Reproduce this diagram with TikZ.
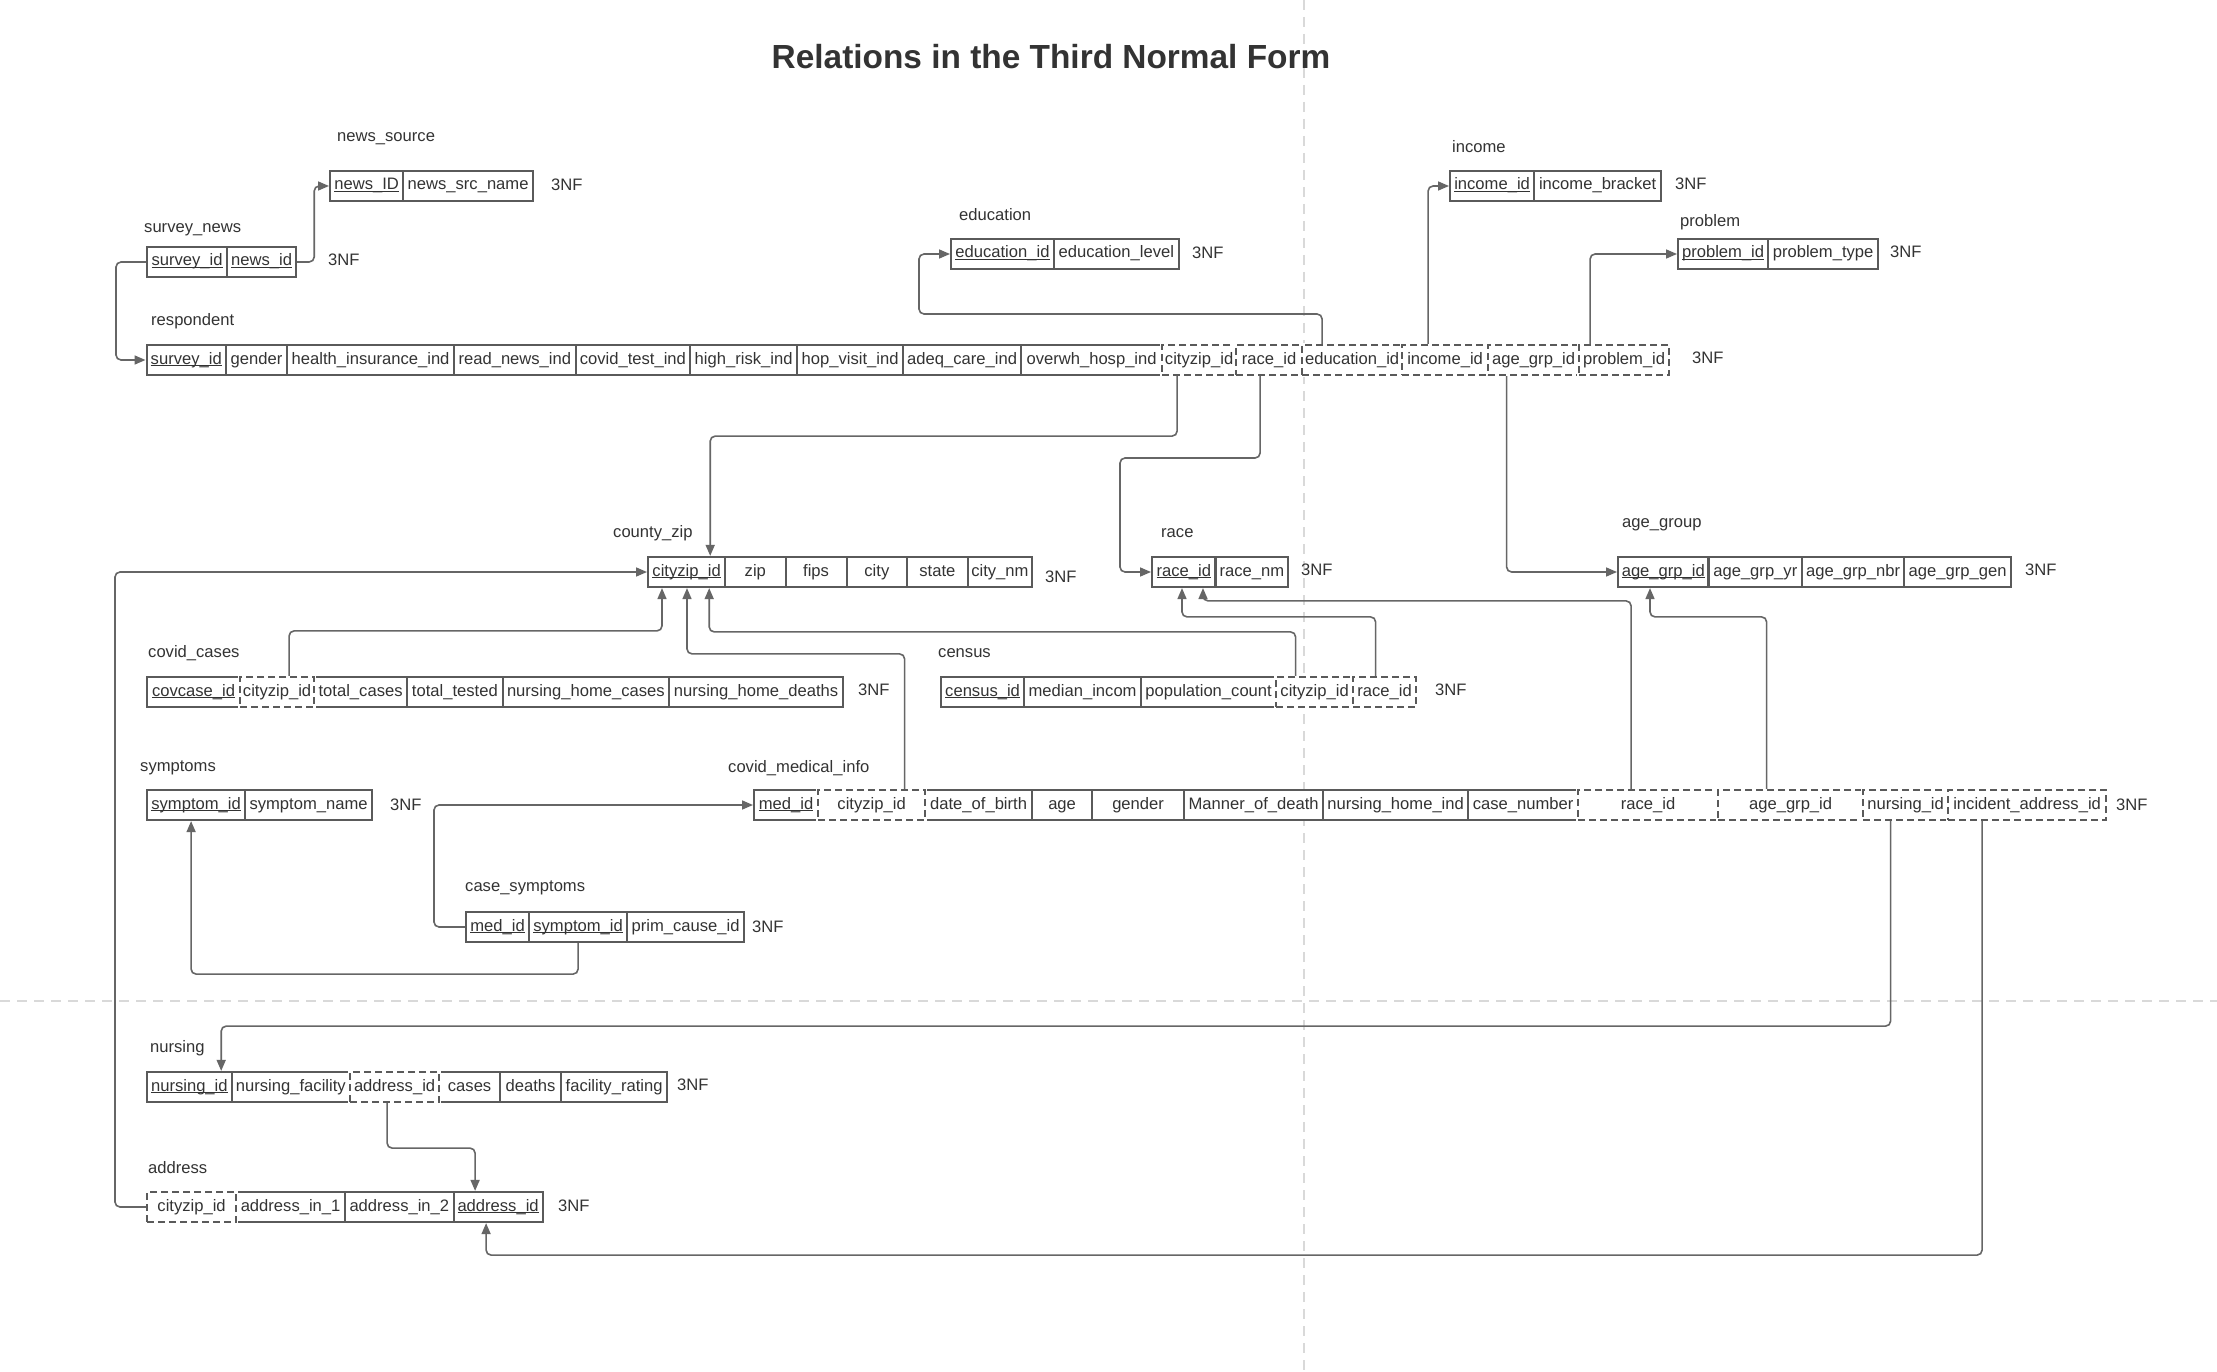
\documentclass[tikz,border=0pt]{standalone}
\usepackage{fontspec}
\setmainfont{Liberation Sans}
\usetikzlibrary{arrows.meta}
\definecolor{txtc}{HTML}{333333}
\definecolor{bordc}{HTML}{5A5A5A}
\definecolor{linec}{HTML}{666666}
\definecolor{pagec}{HTML}{D9D9D9}
\newcommand\tcell[6][tcellst]{\node[#1, minimum width={(#4-#3)*1pt}] (#2) at (#3,#5) {#6};}
\newcommand\pkey[1]{\setbox0\hbox{#1}\rlap{\rule[-2.4pt]{\wd0}{1.3pt}}\box0}
\begin{document}
\begin{tikzpicture}[x=1pt,y=-1pt,
  tcellst/.style={draw=bordc, line width=2.2pt, fill=white, minimum height=30pt, inner sep=0pt,
    anchor=west, text=txtc, font=\fontsize{16.6pt}{20pt}\selectfont, text height=12pt, text depth=4pt},
  fkst/.style={tcellst, dash pattern=on 7pt off 4pt, preaction={draw=white, line width=3.6pt, solid}},
  tname/.style={anchor=west, inner sep=0pt, text=txtc, font=\fontsize{16.6pt}{20pt}\selectfont},
  nfst/.style={tname},
  conn/.style={draw=linec, line width=1.6pt, rounded corners=5pt, -{Triangle[length=11pt,width=9pt]}},
  pageline/.style={draw=pagec, line width=2.5pt, dash pattern=on 10pt off 7pt}]
\useasboundingbox (0,0) rectangle (2217,1372);
\fill[white] (0,0) rectangle (2217,1372);
% page break lines
\draw[pageline] (1304,0) -- (1304,1372);
\draw[pageline] (0,1001) -- (2217,1001);
% title
\node[text=txtc, font=\fontsize{33.4pt}{40pt}\selectfont\bfseries] (title) at (1051,57) {Relations in the Third Normal Form};

% news_source
\node[tname] (l-ns) at (337,139) {news\_source};
\tcell{ns-id}{329}{402}{186}{\pkey{news\_ID}}
\tcell{ns-name}{402}{532}{186}{news\_src\_name}
\node[nfst] (n-ns) at (551,185) {3NF};

% survey_news
\node[tname] (l-sn) at (144,230) {survey\_news};
\tcell{sn-sid}{146}{226}{262}{\pkey{survey\_id}}
\tcell{sn-nid}{226}{295}{262}{\pkey{news\_id}}
\node[nfst] (n-sn) at (328,260) {3NF};

% respondent
\node[tname] (l-r) at (151,321) {respondent};
\tcell{r-sid}{145.5}{224.8}{360}{\pkey{survey\_id}}
\tcell{r-gender}{224.8}{286}{360}{gender}
\tcell{r-hins}{286}{453}{360}{health\_insurance\_ind}
\tcell{r-rnews}{453}{574.5}{360}{read\_news\_ind}
\tcell{r-ctest}{574.5}{689}{360}{covid\_test\_ind}
\tcell{r-hrisk}{689}{796}{360}{high\_risk\_ind}
\tcell{r-hop}{796}{902}{360}{hop\_visit\_ind}
\tcell{r-adeq}{902}{1020}{360}{adeq\_care\_ind}
\tcell{r-overwh}{1020}{1161}{360}{overwh\_hosp\_ind}
\tcell[fkst]{r-cz}{1161}{1235}{360}{cityzip\_id}
\tcell[fkst]{r-race}{1235}{1301}{360}{race\_id}
\tcell[fkst]{r-edu}{1301}{1401}{360}{education\_id}
\tcell[fkst]{r-inc}{1401}{1487}{360}{income\_id}
\tcell[fkst]{r-age}{1487}{1578}{360}{age\_grp\_id}
\tcell[fkst]{r-prob}{1578}{1668}{360}{problem\_id}
\node[nfst] (n-r) at (1692,358) {3NF};

% education
\node[tname] (l-ed) at (959,215) {education};
\tcell{ed-id}{950}{1052.7}{254}{\pkey{education\_id}}
\tcell{ed-lvl}{1052.7}{1177.7}{254}{education\_level}
\node[nfst] (n-ed) at (1192,253) {3NF};

% income
\node[tname] (l-inc) at (1452,147) {income};
\tcell{inc-id}{1449}{1533}{186}{\pkey{income\_id}}
\tcell{inc-br}{1533}{1660}{186}{income\_bracket}
\node[nfst] (n-inc) at (1675,184) {3NF};

% problem
\node[tname] (l-pr) at (1680,222) {problem};
\tcell{pr-id}{1677}{1767}{254}{\pkey{problem\_id}}
\tcell{pr-type}{1767}{1877}{254}{problem\_type}
\node[nfst] (n-pr) at (1890,252) {3NF};

% county_zip
\node[tname] (l-cz) at (613,533) {county\_zip};
\tcell{cz-id}{647}{724}{572}{\pkey{cityzip\_id}}
\tcell{cz-zip}{724}{784.5}{572}{zip}
\tcell{cz-fips}{784.5}{845.5}{572}{fips}
\tcell{cz-city}{845.5}{906}{572}{city}
\tcell{cz-state}{906}{966.5}{572}{state}
\tcell{cz-nm}{966.5}{1031}{572}{city\_nm}
\node[nfst] (n-cz) at (1045,577) {3NF};

% race
\node[tname] (l-rc) at (1161,533) {race};
\tcell{rc-id}{1151}{1214.4}{572}{\pkey{race\_id}}
\tcell{rc-nm}{1214.4}{1287}{572}{race\_nm}
\node[nfst] (n-rc) at (1301,570) {3NF};

% age_group
\node[tname] (l-ag) at (1622,525) {age\_group};
\tcell{ag-id}{1617}{1707.4}{572}{\pkey{age\_grp\_id}}
\tcell{ag-yr}{1707.4}{1801}{572}{age\_grp\_yr}
\tcell{ag-nbr}{1801}{1903}{572}{age\_grp\_nbr}
\tcell{ag-gen}{1903}{2010}{572}{age\_grp\_gen}
\node[nfst] (n-ag) at (2025,570) {3NF};

% covid_cases
\node[tname] (l-cc) at (148,653) {covid\_cases};
\tcell{cc-id}{146}{239}{692}{\pkey{covcase\_id}}
\tcell{cc-tc}{313}{406}{692}{total\_cases}
\tcell{cc-tt}{406}{501.6}{692}{total\_tested}
\tcell{cc-nhc}{501.6}{668}{692}{nursing\_home\_cases}
\tcell{cc-nhd}{668}{842}{692}{nursing\_home\_deaths}
\tcell[fkst]{cc-cz}{239}{313}{692}{cityzip\_id}
\node[nfst] (n-cc) at (858,690) {3NF};

% census
\node[tname] (l-ce) at (938,653) {census};
\tcell{ce-id}{940}{1023}{692}{\pkey{census\_id}}
\tcell{ce-mi}{1023}{1140}{692}{median\_incom}
\tcell{ce-pc}{1140}{1275}{692}{population\_count}
\tcell[fkst]{ce-cz}{1275}{1352}{692}{cityzip\_id}
\tcell[fkst]{ce-race}{1352}{1415}{692}{race\_id}
\node[nfst] (n-ce) at (1435,690) {3NF};

% symptoms
\node[tname] (l-sy) at (140,768) {symptoms};
\tcell{sy-id}{146}{244}{805}{\pkey{symptom\_id}}
\tcell{sy-nm}{244}{371}{805}{symptom\_name}
\node[nfst] (n-sy) at (390,805) {3NF};

% covid_medical_info
\node[tname] (l-cm) at (728,768) {covid\_medical\_info};
\tcell{cm-med}{753}{817}{805}{\pkey{med\_id}}
\tcell{cm-dob}{924}{1031}{805}{date\_of\_birth}
\tcell{cm-age}{1031}{1091}{805}{age}
\tcell{cm-gen}{1091}{1183}{805}{gender}
\tcell{cm-mod}{1183}{1322}{805}{Manner\_of\_death}
\tcell{cm-nhi}{1322}{1467}{805}{nursing\_home\_ind}
\tcell{cm-cn}{1467}{1577}{805}{case\_number}
\tcell[fkst]{cm-cz}{817}{924}{805}{cityzip\_id}
\tcell[fkst]{cm-race}{1577}{1717}{805}{race\_id}
\tcell[fkst]{cm-ag}{1717}{1862}{805}{age\_grp\_id}
\tcell[fkst]{cm-nurs}{1862}{1947}{805}{nursing\_id}
\tcell[fkst]{cm-addr}{1947}{2105}{805}{incident\_address\_id}
\node[nfst] (n-cm) at (2116,805) {3NF};

% case_symptoms
\node[tname] (l-cs) at (465,888) {case\_symptoms};
\tcell{cs-med}{465}{528}{927}{\pkey{med\_id}}
\tcell{cs-sym}{528}{626}{927}{\pkey{symptom\_id}}
\tcell{cs-pc}{626}{743}{927}{prim\_cause\_id}
\node[nfst] (n-cs) at (752,927) {3NF};

% nursing
\node[tname] (l-nu) at (150,1048) {nursing};
\tcell{nu-id}{146}{230.5}{1087}{\pkey{nursing\_id}}
\tcell{nu-fac}{230.5}{349}{1087}{nursing\_facility}
\tcell{nu-cases}{438}{499}{1087}{cases}
\tcell{nu-deaths}{499}{560}{1087}{deaths}
\tcell{nu-rate}{560}{666}{1087}{facility\_rating}
\tcell[fkst]{nu-addr}{349}{438}{1087}{address\_id}
\node[nfst] (n-nu) at (677,1085) {3NF};

% address
\node[tname] (l-ad) at (148,1168) {address};
\tcell{ad-a1}{235}{344}{1207}{address\_in\_1}
\tcell{ad-a2}{344}{452.5}{1207}{address\_in\_2}
\tcell{ad-id}{452.5}{541.5}{1207}{\pkey{address\_id}}
\tcell[fkst]{ad-cz}{146}{235}{1207}{cityzip\_id}
\node[nfst] (n-ad) at (558,1206) {3NF};

% connectors
\draw[conn] (sn-nid.east) -- ++(17,0) |- (ns-id.west);
\draw[conn] (sn-sid.west) -- ++(-30,0) |- (r-sid.west);
\draw[conn] ([xshift=-30pt]r-edu.north) |- (919,314) |- (ed-id.west);
\draw[conn] ([xshift=-17pt]r-inc.north) |- (inc-id.west);
\draw[conn] ([xshift=-34pt]r-prob.north) |- (pr-id.west);
\draw[conn] ([xshift=-22pt]r-cz.south) -- ++(0,60) -| ([xshift=-16pt]cz-id.north east);
\draw[conn] ([xshift=-9pt]r-race.south) |- (1120,458) |- (rc-id.west);
\draw[conn] ([xshift=-27pt]r-age.south) |- (ag-id.west);
\draw[conn] ([xshift=12pt]cc-cz.north) -- ++(0,-45) -| ([xshift=15pt]cz-id.south west);
\draw[conn] ([xshift=33pt]cm-cz.north) -- ++(0,-135) -| ([xshift=40pt]cz-id.south west);
\draw[conn] ([xshift=-19pt]ce-cz.north) -- ++(0,-44) -| ([xshift=-17pt]cz-id.south east);
\draw[conn] ([xshift=-9pt]ce-race.north) -- ++(0,-59) -| ([xshift=31pt]rc-id.south west);
\draw[conn] ([xshift=-17pt]cm-race.north) -- ++(0,-188) -| ([xshift=52pt]rc-id.south west);
\draw[conn] ([xshift=-24pt]cm-ag.north) -- ++(0,-172) -| ([xshift=33pt]ag-id.south west);
\draw[conn] ([xshift=-15pt]cm-nurs.south) -- ++(0,205) -| ([xshift=-11.5pt]nu-id.north east);
\draw[conn] ([xshift=-45pt]cm-addr.south) -- ++(0,434) -| ([xshift=-12pt]ad-id.south);
\draw[conn] ([xshift=-7.5pt]nu-addr.south) -- ++(0,45) -| ([xshift=-23pt]ad-id.north);
\draw[conn] (ad-cz.west) -- ++(-31,0) |- (cz-id.west);
\draw[conn] (cs-med.west) -- ++(-31,0) |- (cm-med.west);
\draw[conn] (cs-sym.south) -- ++(0,31) -| ([xshift=-5pt]sy-id.south);
\end{tikzpicture}
\end{document}
